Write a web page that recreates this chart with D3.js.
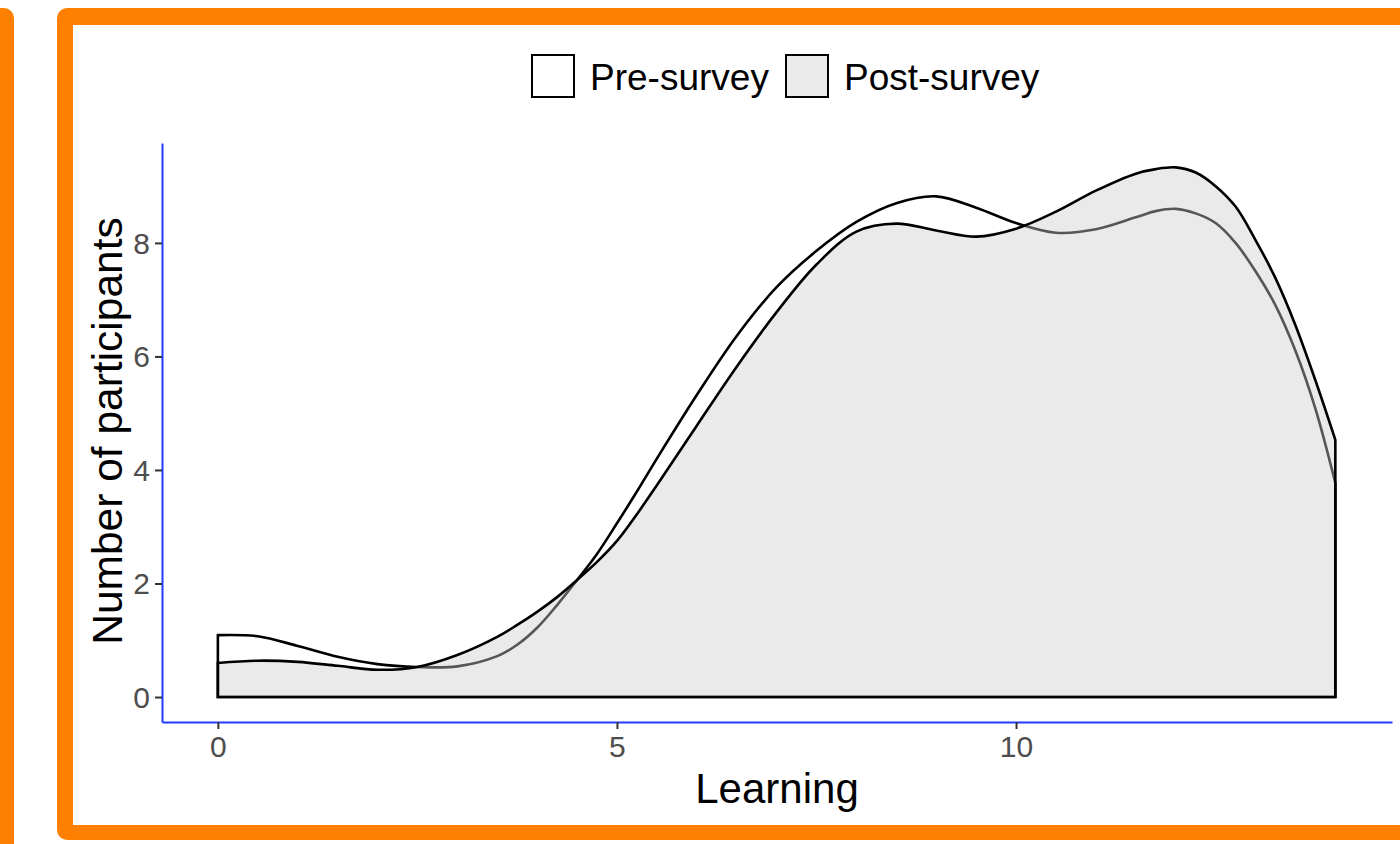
<!DOCTYPE html>
<html>
<head>
<meta charset="utf-8">
<script src="https://cdn.jsdelivr.net/npm/d3@7"></script>
<style>
  html, body { margin: 0; padding: 0; background: #fff; }
  svg { display: block; }
  text { font-family: "Liberation Sans", Arial, Helvetica, sans-serif; }
</style>
</head>
<body>
<svg id="chart" width="1400" height="844"></svg>
<script>
// ---- data ----
const learning = [0, 0.5, 1, 1.5, 2, 2.5, 3, 3.5, 3.75, 4, 4.25, 4.5, 4.75, 5, 5.25, 5.5, 6, 6.5, 7, 7.5, 8, 8.5, 9, 9.5, 10, 10.5, 11, 11.5, 11.75, 12, 12.25, 12.5, 12.75, 13, 13.25, 13.5, 13.75, 14];
const preSurvey = [1.09, 1.07, 0.90, 0.71, 0.58, 0.53, 0.54, 0.72, 0.92, 1.22, 1.62, 2.06, 2.52, 3.06, 3.62, 4.20, 5.32, 6.36, 7.22, 7.86, 8.37, 8.70, 8.82, 8.62, 8.35, 8.18, 8.24, 8.45, 8.56, 8.60, 8.52, 8.35, 8.00, 7.50, 6.90, 6.10, 5.08, 3.77];
const postSurvey = [0.60, 0.64, 0.62, 0.55, 0.48, 0.53, 0.74, 1.06, 1.27, 1.50, 1.76, 2.06, 2.38, 2.75, 3.22, 3.73, 4.78, 5.82, 6.78, 7.62, 8.20, 8.34, 8.22, 8.11, 8.25, 8.55, 8.92, 9.22, 9.30, 9.33, 9.24, 9.00, 8.64, 8.05, 7.38, 6.55, 5.58, 4.53];
const seriesNames = ["Pre-survey", "Post-survey"];
const xTicks = [0, 5, 10];
const yTicks = [0, 2, 4, 6, 8];
const xTitle = "Learning";
const yTitle = "Number of participants";

const svg = d3.select("#chart");
const orange = "#ff7f00";
const axisBlue = "#1f3dff";
const postFill = "rgb(205,205,205)";
const postAlpha = 0.42;
const lineW = 2.6;

// ---- frame decoration ----
svg.append("rect").attr("x", -30).attr("y", 8).attr("width", 44).attr("height", 900).attr("rx", 10).attr("fill", orange);
svg.append("rect").attr("x", 57).attr("y", 8).attr("width", 1420).attr("height", 832).attr("rx", 10).attr("fill", orange);
svg.append("rect").attr("x", 73).attr("y", 25).attr("width", 1420).attr("height", 800).attr("fill", "#fff");

// ---- scales ----
const x = d3.scaleLinear().domain([-0.7, 14.71]).range([162, 1392]);
const y = d3.scaleLinear().domain([-0.44, 9.76]).range([722, 143]);

const pre = learning.map((v, i) => ({ x: v, y: preSurvey[i] }));
const post = learning.map((v, i) => ({ x: v, y: postSurvey[i] }));

const area = d3.area()
  .x(d => x(d.x))
  .y0(y(0))
  .y1(d => y(d.y))
  .curve(d3.curveCatmullRom.alpha(0.5));

svg.append("path").datum(pre).attr("d", area)
  .attr("fill", "#fff").attr("stroke", "#000").attr("stroke-width", lineW).attr("stroke-linejoin", "miter");
svg.append("path").datum(post).attr("d", area)
  .attr("fill", postFill).attr("fill-opacity", postAlpha)
  .attr("stroke", "#000").attr("stroke-width", lineW).attr("stroke-linejoin", "miter");

// ---- axes ----
const gx = svg.append("g").attr("transform", `translate(0,722)`)
  .call(d3.axisBottom(x).tickValues(xTicks).tickSize(7).tickSizeOuter(0).tickPadding(6));
const gy = svg.append("g").attr("transform", `translate(162,0)`)
  .call(d3.axisLeft(y).tickValues(yTicks).tickSize(7).tickSizeOuter(0).tickPadding(5));

[gx, gy].forEach(g => {
  g.select(".domain").attr("stroke", axisBlue).attr("stroke-width", 2);
  g.selectAll(".tick line").attr("stroke", "#333").attr("stroke-width", 2);
  g.selectAll(".tick text").attr("fill", "#4d4d4d")
    .style("font-size", "30px").style("font-family", "'Liberation Sans', Arial, sans-serif");
});
gx.selectAll(".tick text").attr("dy", "0.74em");
gy.selectAll(".tick text").attr("dy", "0.35em");

// ---- axis titles ----
svg.append("text").attr("x", 777).attr("y", 803).attr("text-anchor", "middle")
  .style("font-size", "42px").attr("fill", "#000").text(xTitle);
svg.append("text").attr("transform", "translate(122,431) rotate(-90)").attr("text-anchor", "middle")
  .style("font-size", "42.5px").attr("fill", "#000").text(yTitle);

// ---- legend ----
const legend = [
  { name: seriesNames[0], bx: 532, fill: "#fff", op: 1 },
  { name: seriesNames[1], bx: 786, fill: postFill, op: postAlpha }
];
legend.forEach(l => {
  svg.append("rect").attr("x", l.bx).attr("y", 55).attr("width", 42).attr("height", 42)
    .attr("fill", l.fill).attr("fill-opacity", l.op).attr("stroke", "#000").attr("stroke-width", 2);
  svg.append("text").attr("x", l.bx + 58).attr("y", 90)
    .style("font-size", "37px").attr("fill", "#000").text(l.name);
});
</script>
</body>
</html>
